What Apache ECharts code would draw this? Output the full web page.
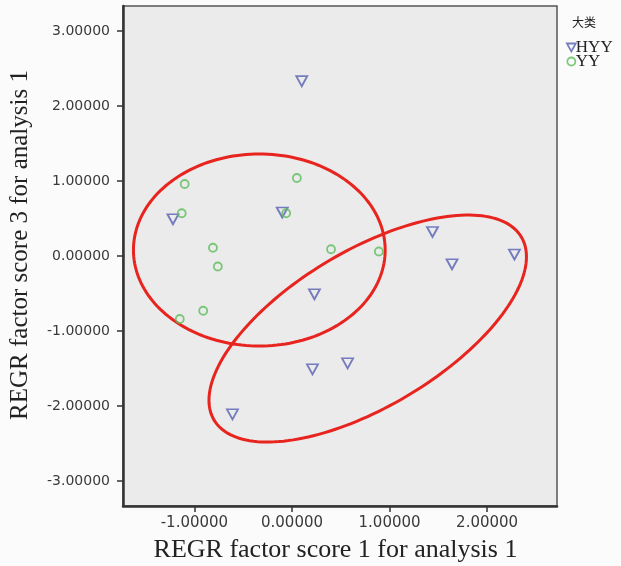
<!DOCTYPE html>
<html>
<head>
<meta charset="utf-8">
<script src="https://cdn.jsdelivr.net/npm/echarts@6/dist/echarts.min.js"></script>
<style>
  html, body { margin: 0; padding: 0; background: #fbfbfb; }
  #chart { width: 621px; height: 566px; }
</style>
</head>
<body>
<div id="chart"></div>
<script>
// Factor scores per group (x = factor 1, y = factor 3)
const hyyX = [0.10, -1.22, -0.10, 0.23, 0.21, 0.57, -0.61, 1.44, 1.64, 2.28];
const hyyY = [2.33, 0.49, 0.58, -0.51, -1.51, -1.43, -2.11, 0.32, -0.11, 0.02];
const yyX = [-1.10, 0.05, -1.13, -0.06, -0.81, -0.76, 0.40, -0.91, -1.15, 0.89];
const yyY = [0.96, 1.04, 0.57, 0.57, 0.11, -0.14, 0.09, -0.73, -0.84, 0.06];

const groupNames = ['HYY', 'YY'];
const xTicks = [-1, 0, 1, 2];
const yTicks = [-3, -2, -1, 0, 1, 2, 3];

// Cluster outlines in data units: centre, then two conjugate semi-axis vectors
const ellipseCenters = [[-0.335, 0.08], [0.776, -0.967]];
const ellipseAxisA = [[1.29, 0], [1.627, 0.956]];
const ellipseAxisB = [[0, 1.28], [0, -1.173]];

const fmt = v => v.toFixed(5);
const zip = (xs, ys) => xs.map((x, i) => [x, ys[i]]);

const chart = echarts.init(document.getElementById('chart'));

const tickFont = { fontFamily: 'DejaVu Sans', color: '#3a3a3a' };
const titleFont = { fontFamily: 'Liberation Serif', color: '#222' };

chart.setOption({
  backgroundColor: '#fbfbfb',
  animation: false,
  title: {
    text: '大类',
    left: 572, top: 16,
    padding: 0,
    textStyle: { fontFamily: 'Noto Sans CJK SC', fontSize: 12, fontWeight: 'normal', color: '#222' }
  },
  legend: {
    orient: 'vertical',
    left: 566, top: 39,
    itemGap: -3,
    itemWidth: 9, itemHeight: 8,
    padding: 0,
    textStyle: { fontFamily: 'Liberation Serif', fontSize: 17, color: '#222', padding: [0, 0, 0, -5] },
    data: [
      { name: groupNames[0], icon: 'path://M0,0L10,0L5,9Z',
        itemStyle: { color: 'transparent', borderColor: '#5860b3', borderWidth: 1.8 } },
      { name: groupNames[1], icon: 'circle',
        itemStyle: { color: 'transparent', borderColor: '#5cbd5c', borderWidth: 1.8 } }
    ]
  },
  grid: {
    left: 123, right: 64, top: 6, bottom: 60,
    outerBoundsMode: 'none',
    show: true,
    backgroundColor: '#ebebeb',
    borderColor: '#555',
    borderWidth: 1.5
  },
  xAxis: {
    type: 'value',
    min: -1.732, max: 2.716,
    name: 'REGR factor score 1 for analysis 1',
    nameLocation: 'middle',
    nameGap: 31,
    nameTextStyle: Object.assign({ fontSize: 26, padding: [0, 9, 0, 0] }, titleFont),
    axisLine: { onZero: false, lineStyle: { color: '#333', width: 2.5 } },
    axisTick: { show: true, length: 6, customValues: xTicks, lineStyle: { color: '#333', width: 1.5 } },
    axisLabel: Object.assign({ customValues: xTicks, formatter: fmt, margin: 10, fontSize: 15 }, tickFont),
    splitLine: { show: false }
  },
  yAxis: {
    type: 'value',
    min: -3.333, max: 3.333,
    name: 'REGR factor score 3 for analysis 1',
    nameLocation: 'middle',
    nameGap: 90,
    nameTextStyle: Object.assign({ fontSize: 25, padding: [0, 0, 0, 22] }, titleFont),
    axisLine: { onZero: false, lineStyle: { color: '#333', width: 2.5 } },
    axisTick: { show: true, length: 6, customValues: yTicks, lineStyle: { color: '#333', width: 1.5 } },
    axisLabel: Object.assign({ customValues: yTicks, formatter: fmt, margin: 13, fontSize: 14 }, tickFont),
    splitLine: { show: false }
  },
  series: [
    {
      type: 'custom',
      name: 'outline',
      silent: true,
      z: 1,
      data: ellipseCenters.map((c, i) => [c[0], c[1], i]),
      renderItem: function (params, api) {
        const i = params.dataIndex;
        const c = ellipseCenters[i], a = ellipseAxisA[i], b = ellipseAxisB[i];
        const pts = [];
        for (let k = 0; k < 180; k++) {
          const t = (k / 180) * Math.PI * 2;
          const ct = Math.cos(t), st = Math.sin(t);
          pts.push(api.coord([c[0] + a[0] * ct + b[0] * st, c[1] + a[1] * ct + b[1] * st]));
        }
        return {
          type: 'polygon',
          shape: { points: pts },
          style: { fill: 'none', stroke: '#e8241f', lineWidth: 3 }
        };
      }
    },
    {
      type: 'scatter',
      name: groupNames[0],
      z: 3,
      data: zip(hyyX, hyyY),
      symbol: 'triangle',
      symbolRotate: 180,
      symbolSize: [11, 10],
      itemStyle: { color: 'transparent', borderColor: '#5860b3', borderWidth: 1.8 }
    },
    {
      type: 'scatter',
      name: groupNames[1],
      z: 3,
      data: zip(yyX, yyY),
      symbol: 'circle',
      symbolSize: 8,
      itemStyle: { color: 'transparent', borderColor: '#5cbd5c', borderWidth: 1.8 }
    }
  ]
});
</script>
</body>
</html>
